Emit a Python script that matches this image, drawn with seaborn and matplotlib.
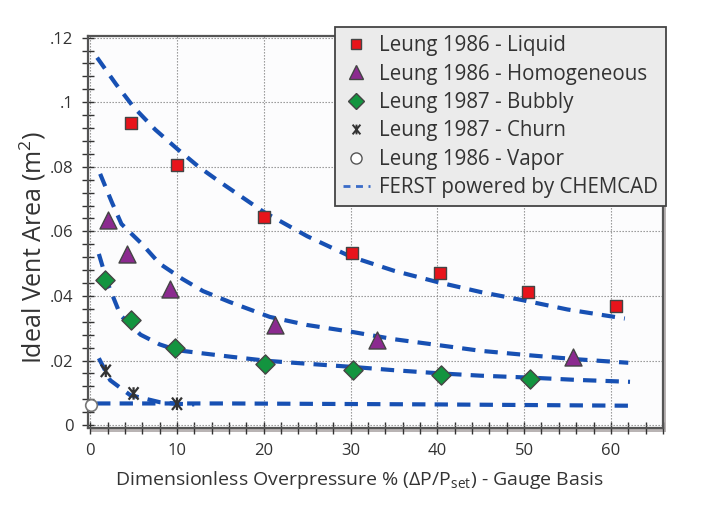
import numpy as np
import pandas as pd
import matplotlib
matplotlib.use("Agg")
import matplotlib.pyplot as plt
import seaborn as sns
from matplotlib.ticker import MultipleLocator, FuncFormatter
from matplotlib.patches import Rectangle
from matplotlib.path import Path
from matplotlib.markers import MarkerStyle
from matplotlib.lines import Line2D

# ---- data ----
liquid_x = [4.7, 10, 20, 30.2, 40.3, 50.5, 60.6]
liquid_y = [0.0935, 0.0805, 0.0645, 0.0533, 0.0470, 0.0412, 0.0368]

homog_x = [2.0, 4.3, 9.2, 21.3, 33.0, 55.6]
homog_y = [0.0634, 0.0530, 0.0420, 0.0310, 0.0263, 0.0211]

bubbly_x = [1.7, 4.7, 9.8, 20.2, 30.3, 40.4, 50.7]
bubbly_y = [0.0448, 0.0325, 0.0240, 0.0189, 0.0170, 0.0155, 0.0142]

churn_x = [1.8, 5.0, 10.0]
churn_y = [0.0168, 0.0098, 0.0066]

vapor_x = [0.1]
vapor_y = [0.0061]

ferst_liq_x = [0.8, 3, 5, 7.5, 10, 12.5, 15, 20, 25, 30, 35, 40, 45, 50, 55, 61.6]
ferst_liq_y = [0.1138, 0.1055, 0.0985, 0.0915, 0.0856, 0.0800, 0.0752, 0.0660, 0.0585, 0.0522, 0.0478, 0.0443, 0.0412, 0.0386, 0.0358, 0.0330]

ferst_hom_x = [1.15, 2.5, 3.6, 6.0, 8.0, 10.6, 13, 16.1, 20.7, 25, 30.3, 35, 40.3, 45, 50.7, 56, 62]
ferst_hom_y = [0.0778, 0.0690, 0.0623, 0.0560, 0.0500, 0.0453, 0.0415, 0.0381, 0.0335, 0.0310, 0.0288, 0.0266, 0.0247, 0.0230, 0.0216, 0.0204, 0.0193]

ferst_bub_x = [1.0, 2.0, 3.5, 5.8, 8.0, 10, 13, 16.1, 20.4, 25, 30.3, 35, 40.4, 45, 50.7, 56, 62.2]
ferst_bub_y = [0.0530, 0.0440, 0.0340, 0.0280, 0.0250, 0.0232, 0.0222, 0.0212, 0.0199, 0.0190, 0.0180, 0.0170, 0.0160, 0.0153, 0.0147, 0.0140, 0.0134]

ferst_churn_x = [1.0, 2.3, 4.6, 8.0, 10.0, 12.0]
ferst_churn_y = [0.0207, 0.0139, 0.0093, 0.0071, 0.0066, 0.0064]

ferst_vap_x = [0.8, 16, 40, 62.2]
ferst_vap_y = [0.0067, 0.0067, 0.0064, 0.0060]

labels = ["Leung 1986 - Liquid", "Leung 1986 - Homogeneous", "Leung 1987 - Bubbly",
          "Leung 1987 - Churn", "Leung 1986 - Vapor", "FERST powered by CHEMCAD"]

# ---- style ----
sns.set_style("white")
plt.rcParams['font.family'] = ['Open Sans', 'DejaVu Sans']
plt.rcParams['mathtext.fontset'] = 'custom'
plt.rcParams['mathtext.rm'] = 'Open Sans'
plt.rcParams['mathtext.it'] = 'Open Sans'

fig = plt.figure(figsize=(7.16, 5.20), dpi=100)
ax = fig.add_axes([88/716, 1-428/520, (663-88)/716, (428-36)/520])
ax.set_facecolor('#fcfcfd')

# shadow behind the axes frame
fig.patches.append(Rectangle((91/716, 1-432/520), (663-88)/716, (428-36)/520,
                             transform=fig.transFigure, facecolor='#b9b4b4',
                             edgecolor='none', zorder=-1))

line_color = '#1750b3'
curves = [(ferst_liq_x, ferst_liq_y), (ferst_hom_x, ferst_hom_y), (ferst_bub_x, ferst_bub_y),
          (ferst_churn_x, ferst_churn_y), (ferst_vap_x, ferst_vap_y)]
for cx, cy in curves:
    sns.lineplot(x=cx, y=cy, ax=ax, color=line_color, linewidth=3.0, legend=False)
for ln in ax.get_lines():
    ln.set_dashes((3.2, 2.2))
    ln.set_dash_capstyle('butt')
    ln.set_zorder(2)

# churn marker: an "x" crossed by a vertical stroke (asterisk-like)
churn_path = Path([(-0.8, -1), (0.8, 1), (-0.8, 1), (0.8, -1), (0, -1), (0, 1)],
                  [Path.MOVETO, Path.LINETO, Path.MOVETO, Path.LINETO, Path.MOVETO, Path.LINETO])
churn_marker = MarkerStyle(churn_path, fillstyle='none')

edge = '#444444'
sns.scatterplot(x=liquid_x, y=liquid_y, ax=ax, marker='s', s=75, color='#e8141b',
                edgecolor=edge, linewidth=1.0, zorder=3)
sns.scatterplot(x=homog_x, y=homog_y, ax=ax, marker='^', s=150, color='#8b2a8f',
                edgecolor=edge, linewidth=1.0, zorder=3)
sns.scatterplot(x=bubbly_x, y=bubbly_y, ax=ax, marker='D', s=95, color='#13943f',
                edgecolor=edge, linewidth=1.0, zorder=3)
sns.scatterplot(x=churn_x, y=churn_y, ax=ax, marker=churn_marker, s=80, color='#333333',
                linewidth=1.6, zorder=3)
sns.scatterplot(x=vapor_x, y=vapor_y, ax=ax, marker='o', s=70, color='white',
                edgecolor='#777777', linewidth=1.2, zorder=3, clip_on=False)

ax.set_xlim(-0.25, 66.0)
ax.set_ylim(-0.0009, 0.1205)

ax.xaxis.set_major_locator(MultipleLocator(10))
ax.xaxis.set_minor_locator(MultipleLocator(2))
ax.yaxis.set_major_locator(MultipleLocator(0.02))
ax.yaxis.set_minor_locator(MultipleLocator(0.004))

def yfmt(v, pos):
    if abs(v) < 1e-9:
        return '0'
    s = ('%.2f' % v).rstrip('0')
    return s.lstrip('0')
ax.yaxis.set_major_formatter(FuncFormatter(yfmt))

ax.tick_params(which='both', direction='inout', color='#333333', bottom=True, left=True)
ax.tick_params(which='major', length=9, width=1.0, labelsize=12, labelcolor='#333333', pad=6)
ax.tick_params(which='minor', length=9, width=1.0)

ax.grid(True, which='major', linestyle=(0, (1.2, 1.5)), color='#8a8a8a', linewidth=0.8)
for sp in ax.spines.values():
    sp.set_color('#555555')
    sp.set_linewidth(1.6)

ax.set_ylabel('Ideal Vent Area (m$^2$)', fontsize=18, color='#333333')
ax.yaxis.set_label_coords(-0.07, 0.46)
ax.set_xlabel('Dimensionless Overpressure % ($\\Delta$P/P$_{\\mathrm{set}}$) - Gauge Basis',
              fontsize=14, color='#333333')
ax.xaxis.set_label_coords(0.473, -0.105)

# legend
handles = [
    Line2D([], [], linestyle='none', marker='s', markersize=6.5, markerfacecolor='#e8141b', markeredgecolor=edge),
    Line2D([], [], linestyle='none', marker='^', markersize=10, markerfacecolor='#8b2a8f', markeredgecolor=edge),
    Line2D([], [], linestyle='none', marker='D', markersize=8, markerfacecolor='#13943f', markeredgecolor=edge),
    Line2D([], [], linestyle='none', marker=churn_marker, markersize=7, color='#333333', markeredgewidth=1.4),
    Line2D([], [], linestyle='none', marker='o', markersize=8, markerfacecolor='white', markeredgecolor='#555555'),
    Line2D([], [], color='#3a6cc8', linewidth=2.0, dashes=(2.5, 2.0)),
]
leg = fig.legend(handles, labels, loc='upper right', bbox_to_anchor=(666/716, 1-27/520),
                 fontsize=14.8, frameon=True, fancybox=False, handlelength=1.3,
                 handletextpad=0.45, labelspacing=0.36, borderpad=0.4, borderaxespad=0)
leg.get_frame().set_facecolor('#ebebeb')
leg.get_frame().set_edgecolor('#444444')
leg.get_frame().set_linewidth(1.3)
leg.get_frame().set_alpha(1)
for t in leg.get_texts():
    t.set_color('#333333')

fig.savefig('out.png', dpi=100, facecolor='white')
